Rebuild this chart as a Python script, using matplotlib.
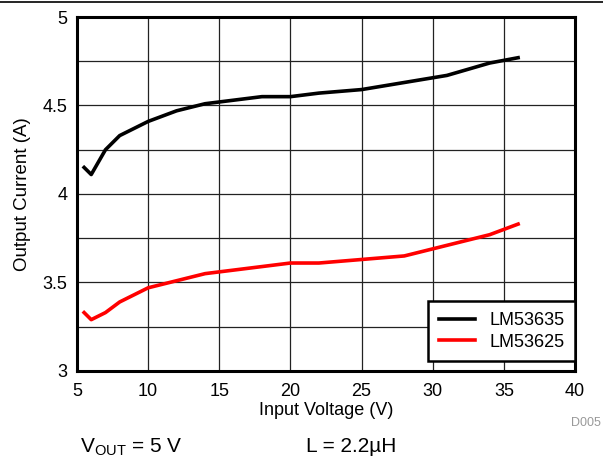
import numpy as np
import matplotlib
matplotlib.use("Agg")
import matplotlib.pyplot as plt

plt.rcParams['font.family'] = ['Liberation Sans', 'DejaVu Sans']

# LM53635 curve
vin_35 = [5.5, 6, 7, 8, 10, 12, 14, 18, 20, 22, 25, 28, 31, 34, 36]
iout_35 = [4.15, 4.11, 4.25, 4.33, 4.41, 4.47, 4.51, 4.55, 4.55, 4.57, 4.59, 4.63, 4.67, 4.74, 4.77]

# LM53625 curve
vin_25 = [5.5, 6, 7, 8, 10, 14, 20, 22, 25, 28, 31, 34, 36]
iout_25 = [3.33, 3.29, 3.33, 3.39, 3.47, 3.55, 3.61, 3.61, 3.63, 3.65, 3.71, 3.77, 3.83]

xticks = [5, 10, 15, 20, 25, 30, 35, 40]
yticks = [3, 3.5, 4, 4.5, 5]

fig = plt.figure(figsize=(6.03, 4.57), dpi=100)
ax = fig.add_axes([0.1277, 0.1882, 0.8259, 0.7746])

ax.plot(vin_35, iout_35, color='black', lw=2.6, label='LM53635')
ax.plot(vin_25, iout_25, color='red', lw=2.6, label='LM53625')

ax.set_xlim(5, 40)
ax.set_ylim(3, 5)
ax.set_xticks(xticks)
ax.set_xticklabels([str(t) for t in xticks])
ax.set_yticks(yticks)
ax.set_yticklabels(['3', '3.5', '4', '4.5', '5'])
ax.set_yticks(np.arange(3, 5.01, 0.25), minor=True)
ax.tick_params(which='both', length=0, labelsize=13)
ax.tick_params(axis='x', pad=9)
ax.tick_params(axis='y', pad=7)
ax.grid(True, which='both', color='#222222', lw=0.9)
for s in ax.spines.values():
    s.set_linewidth(2.2)

ax.set_xlabel('Input Voltage (V)', fontsize=13, labelpad=1)
ax.set_ylabel('Output Current (A)', fontsize=13.5, labelpad=8)

# legend sits flush against the right spine
leg = ax.legend(loc='lower right', bbox_to_anchor=(1.0, 0.027), fontsize=13,
                frameon=True, fancybox=False, borderaxespad=0,
                handlelength=2.0, borderpad=0.6, labelspacing=0.25,
                handletextpad=0.8)
leg.get_frame().set_edgecolor('black')
leg.get_frame().set_linewidth(1.8)
leg.get_frame().set_alpha(1)

fig.text(0.132, 0.01, r'V$_{\mathregular{OUT}}$ = 5 V', fontsize=15)
fig.text(0.508, 0.01, 'L = 2.2µH', fontsize=15)
fig.text(0.997, 0.068, 'D005', fontsize=9, color='#999999', ha='right')
fig.add_artist(plt.Line2D([0, 1], [0.995, 0.995], color='black', lw=1.2))

fig.savefig('out.png', dpi=100)
